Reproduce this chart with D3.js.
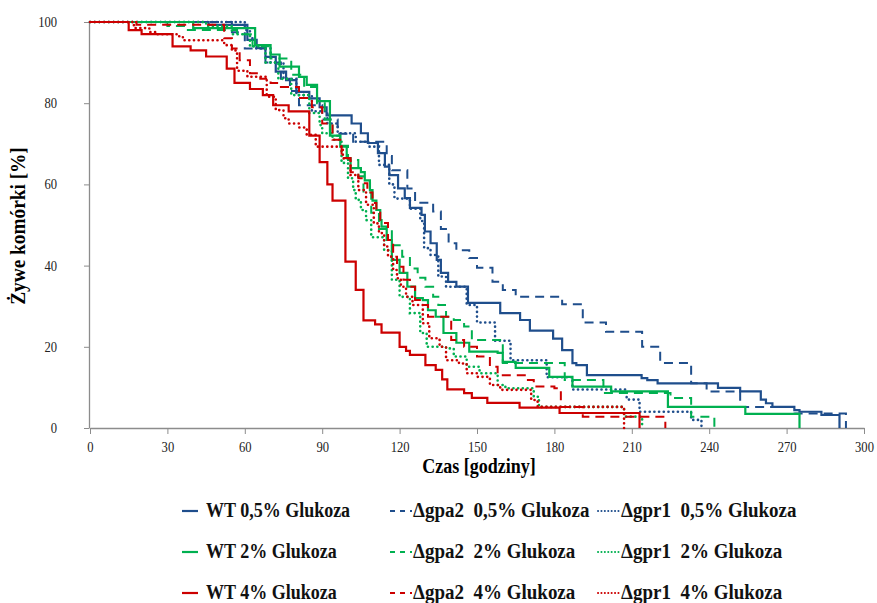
<!DOCTYPE html>
<html>
<head>
<meta charset="utf-8">
<script src="https://cdn.jsdelivr.net/npm/d3@7"></script>
<style>
  body { margin: 0; background: #fff; }
  svg { display: block; }
  .tick text { font-family: "Liberation Serif", "Times New Roman", serif; font-size: 14px; fill: #222; }
  .axis path, .axis line { stroke: #8c8c8c; }
</style>
</head>
<body>
<svg id="chart" width="877" height="603"></svg>
<script>
// survival curves: [czas (h), zywe komorki (%)] - each point is where the step lands
const wt05 = [[0,100],[46,99.3],[61,95.6],[64.6,93.6],[68,91.4],[72,87.8],[76,85.7],[80,82.8],[85,81.2],[89,79],[91.7,77],
  [101.4,75],[105,72.6],[107.7,70.2],[111.6,67.7],[114.3,64.4],[116,62.3],[119.4,59],[122,56.6],[124,54.2],[128.5,52.5],
  [129.8,48.4],[132,45.5],[134.4,41.4],[136,38.2],[138.8,36],[142,34.8],[146.5,30.8],[159,28.3],[166.7,26.6],[170.5,24],
  [179.5,22],[183,19.2],[187,16],[188.5,15.5],[192.6,13],[213.8,12.3],[216,11.8],[220,11],[243.4,9.9],[252,9],[260,7],
  [262,6.1],[264.5,5.2],[273,4.4],[275,4],[283.5,3.2],[290.5,0]]
const gpa05 = [[0,100],[42,100],[55,97.5],[60,93.5],[68,90],[74,86],[77.5,83],[81,79.5],[90,76],[96,72.5],[102,70.5],
  [115,67],[117,63.5],[123,59],[126,55.5],[133,53.3],[136,49],[139,45.5],[142,43.8],[147,41.9],[150,39.5],[156,36],
  [160,34],[165,32.3],[183,30.5],[191,26],[200,23.7],[214,20],[221,16],[233,11],[239,9],[252,5.2],[273,3.6],[293,0]]
const gpr05 = [[0,100],[45,100],[60,98],[62,96],[64,93.5],[70,90],[75,86],[80,82],[86,78],[92,75],[96,72.6],[103,70.5],
  [108,69.3],[112,64.8],[116,60],[118,56.5],[124,54],[128,51],[129.5,44.3],[132,42.6],[135,37.3],[138,34.8],[146,30.3],
  [150,26],[157,21.5],[163,16.7],[177,12.5],[187,9.5],[208,7],[213,4],[233,2],[237,0]]
const wt2 = [[0,100],[40,98.5],[64,94.3],[70,92],[73.5,89],[81,86.5],[84,84.5],[88,80.5],[93,72],[97,69.3],[99.5,66.4],
  [101,64],[105,63],[106.5,61],[108.5,58.6],[109.5,56],[111,53.7],[112.5,51.2],[113,49.6],[115,46.3],[117,41.4],[120,38.2],
  [123,34.8],[126,32],[129,31.5],[131,29],[134,27.4],[137,23.4],[142,21],[147,18.8],[158,18.5],[160,16.3],[165,14.8],
  [178,12.6],[187,10.2],[202,9],[224,5.2],[254,3.5],[275,0]]
const gpa2 = [[0,100],[30,99],[37,98],[57,97],[63,94],[70,91],[78,87],[83,84],[88,80],[91,76],[94,72],[97,69.5],[100,66],
  [104,62],[106,58],[109,53],[112,49],[117,45],[121,42.2],[124,39.3],[127,37],[130,34.8],[133,32.3],[135,30.3],[138,27.4],
  [141,26.6],[145,25],[148,21.7],[160,16],[184,11.8],[199,8.6],[225,7.4],[233,2.8],[242,0]]
const gpr2 = [[0,100],[30,100],[45,99],[55,97],[62,94],[68,90],[73,86],[78,82],[85,77.6],[89,74.6],[90,72.6],[94,71],
  [97.5,65.3],[100,61.5],[102,58.6],[103,56.2],[105,53.7],[107,51.2],[109,47],[114,43.8],[117,36.5],[120,32.3],[124,28.3],
  [128,23.4],[130.5,20],[138,19.6],[141,17.6],[146,15.1],[151,13.5],[158,10.6],[161,9.8],[172,7.7],[174,5.2],[207,2.8],[214,0]]
const wt4 = [[0,100],[15,98],[20,97],[32,94],[39,93],[45,91.5],[53,88.5],[56,85],[62,83.5],[67,82],[71,79.5],[77,78],
  [85,72],[89,65.5],[92,60],[94,56],[99,41],[103,34],[106,26.5],[110.5,25.5],[113,23.5],[120,20],[122.5,19],[124,18],
  [130,15.5],[134,14.3],[136.5,12],[138.5,9.5],[145,8.6],[148,7.4],[154,6.2],[166.5,5],[182,3.7],[213,0]]
const gpa4 = [[0,100],[18,99.3],[52,96],[55,93.5],[58,90.6],[62,87.4],[66,86],[70,85],[74,84],[81,81.3],[86,79],[90,75],
  [94,71],[97.5,66.5],[101,63],[104,61.5],[106,60.3],[107.5,58],[109.5,55.4],[111,53.7],[112.5,50.5],[115.5,46.3],
  [117.5,42.2],[119,39.7],[121.5,36.5],[124,34.8],[126,31.5],[128.5,30.3],[131,27.4],[140,21.7],[145,20],[150,17.6],
  [155,15.1],[158,13],[169,11.8],[172,10.2],[180,9.8],[182.5,5.2],[191,2.8],[223,0]]
const gpr4 = [[0,100],[17,98.5],[23,97.5],[26,97],[34,96.5],[36,95.5],[52,94.3],[55,93],[57,88],[61,86.5],[68.5,81.6],
  [72,78.3],[75,76.3],[77,75],[81,74],[84,72.2],[87.5,69.3],[98,66.4],[101,62.3],[104,58.6],[107,55],[110,50.4],[112,48],
  [114,44.7],[115.5,42.2],[117.5,38.9],[119,36.9],[120.5,34.8],[122.5,32.3],[125,30.3],[129,25.8],[131.5,22.1],[135.5,20],
  [138,16.7],[143,15.9],[146,13.5],[150,12.6],[155,10.6],[159,9.4],[171,6.9],[173.5,5.2],[207,0]]

const xTicks = [0, 30, 60, 90, 120, 150, 180, 210, 240, 270, 300]
const yTicks = [0, 20, 40, 60, 80, 100]

const blue = "#1f4e8c", green = "#00b050", red = "#cc0000"
const serif = "Liberation Serif, Times New Roman, serif"

const series = [
  { label: "WT 0,5% Glukoza", data: wt05, color: blue, kind: "solid" },
  { label: "\u0394gpa2  0,5% Glukoza", data: gpa05, color: blue, kind: "dash" },
  { label: "\u0394gpr1  0,5% Glukoza", data: gpr05, color: blue, kind: "dot" },
  { label: "WT 2% Glukoza", data: wt2, color: green, kind: "solid" },
  { label: "\u0394gpa2  2% Glukoza", data: gpa2, color: green, kind: "dash" },
  { label: "\u0394gpr1  2% Glukoza", data: gpr2, color: green, kind: "dot" },
  { label: "WT 4% Glukoza", data: wt4, color: red, kind: "solid" },
  { label: "\u0394gpa2  4% Glukoza", data: gpa4, color: red, kind: "dash" },
  { label: "\u0394gpr1  4% Glukoza", data: gpr4, color: red, kind: "dot" }
]

const svg = d3.select("#chart")
const x = d3.scaleLinear().domain([0, 300]).range([90, 864])
const y = d3.scaleLinear().domain([0, 100]).range([428, 22])

const styleLine = (sel, d) => {
  sel.attr("fill", "none").attr("stroke", d.color)
  if (d.kind == "solid") sel.attr("stroke-width", 2.2)
  if (d.kind == "dash") sel.attr("stroke-width", 2).attr("stroke-dasharray", "9,6")
  if (d.kind == "dot") sel.attr("stroke-width", 2.6).attr("stroke-dasharray", "0.1,4.6").attr("stroke-linecap", "round")
}

// axes
svg.append("g")
    .attr("class", "axis x-axis")
    .attr("transform", "translate(0,428)")
    .call(d3.axisBottom(x).tickValues(xTicks).tickSize(6).tickSizeOuter(0).tickPadding(8))
svg.append("g")
    .attr("class", "axis y-axis")
    .attr("transform", "translate(89,0)")
    .call(d3.axisLeft(y).tickValues(yTicks).tickSize(5).tickSizeOuter(0).tickPadding(26))
svg.selectAll(".axis .domain").attr("stroke-width", 1.3)
// the labels in the picture are a bit narrow and tall
svg.selectAll(".x-axis .tick text").attr("transform", "scale(0.9,1)")
svg.selectAll(".y-axis .tick text").attr("transform", "translate(-4,0) scale(0.9,1)")

// curves
const line = d3.line()
    .x(d => x(d[0]))
    .y(d => y(d[1]))
    .curve(d3.curveStepAfter)

svg.append("g").selectAll("path")
    .data(series).enter().append("path")
    .attr("d", d => line(d.data))
    .each(function(d) { styleLine(d3.select(this), d) })

// titles
svg.append("text")
    .attr("transform", "translate(479,473) scale(0.9,1)")
    .attr("text-anchor", "middle")
    .attr("font-family", serif)
    .attr("font-weight", "bold").attr("font-size", 20)
    .text("Czas [godziny]")
svg.append("text")
    .attr("transform", "translate(25,226) rotate(-90) scale(0.92,1)")
    .attr("text-anchor", "middle")
    .attr("font-family", serif)
    .attr("font-weight", "bold").attr("font-size", 21)
    .text("Żywe komórki [%]")

// legend 3x3
const colX = [182, 390, 598]
const rowY = [517, 558, 599]
const leg = svg.append("g").selectAll("g")
    .data(series).enter().append("g")
    .attr("transform", (d, i) => "translate(" + colX[i % 3] + "," + rowY[Math.floor(i / 3)] + ")")
leg.append("line")
    .attr("x1", 0).attr("x2", d => d.kind == "solid" ? 16 : 22)
    .attr("y1", -6).attr("y2", -6)
    .each(function(d) {
      styleLine(d3.select(this), d)
      if (d.kind == "dash") d3.select(this).attr("stroke-dasharray", "5,5")
      if (d.kind == "dot") d3.select(this).attr("stroke-dasharray", "0.1,3.3").attr("stroke-width", 2)
    })
leg.append("text")
    .attr("transform", d => d.kind == "solid" ? "translate(24,0) scale(0.9,1)" : "translate(23,0) scale(0.95,1)")
    .attr("font-family", serif)
    .attr("font-weight", "bold").attr("font-size", 20)
    .attr("fill", "#111")
    .style("white-space", "pre")
    .text(d => d.label)
</script>
</body>
</html>
